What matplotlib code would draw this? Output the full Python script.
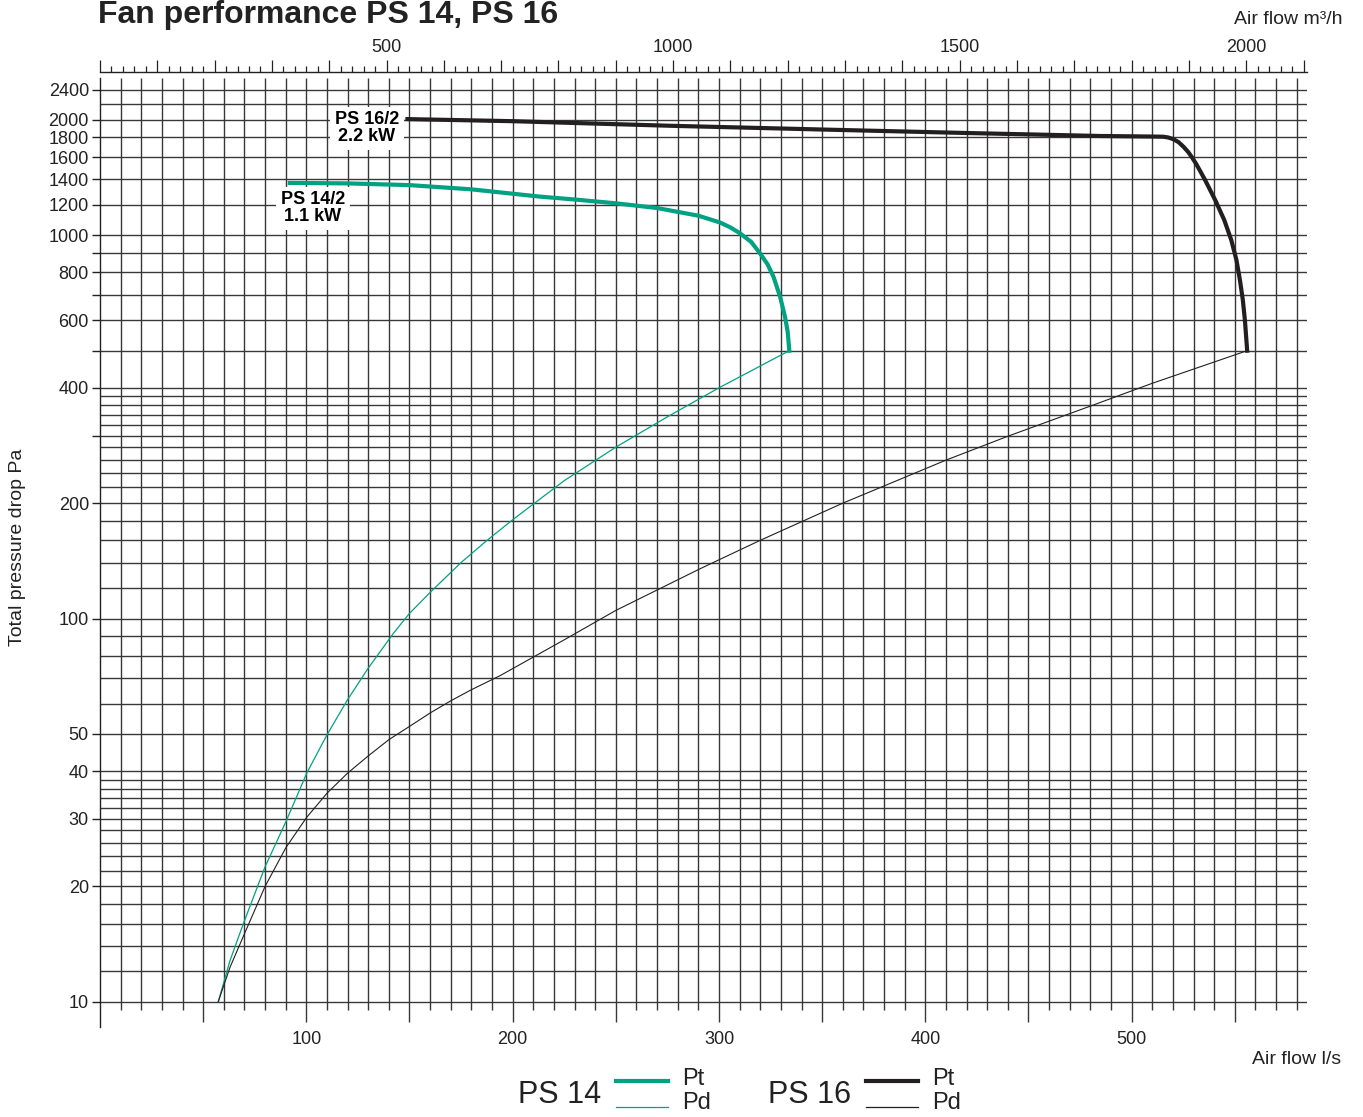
import numpy as np
import matplotlib.pyplot as plt
import matplotlib.ticker as ticker
from matplotlib.lines import Line2D

plt.rcParams['font.family'] = ['Liberation Sans', 'DejaVu Sans']

# air flow in l/s, pressure in Pa
ps14_pt_q = [92, 120, 150, 180, 213, 230, 250, 270, 290, 300.5, 305.6, 310.2, 315.6, 319.9,
             323.5, 326.4, 329.6, 332.0, 333.3, 334.1]
ps14_pt_p = [1370, 1366, 1352, 1318, 1262, 1240, 1212, 1178, 1125, 1080, 1048, 1012, 961, 897,
             841, 780, 692, 613, 560, 500]
ps14_pd_q = [57.3, 63, 69.5, 80, 90.2, 100.2, 110, 119.9, 129.9, 142.2, 149.9, 160, 175, 187,
             200, 225, 250, 275, 300, 334.1]
ps14_pd_p = [10, 12.8, 16, 22.5, 29.6, 39.5, 49.7, 61.3, 74.1, 91.5, 103, 117, 140, 159,
             181, 229, 280, 336, 400, 500]

ps16_pt_q = [149, 200, 278, 350, 418, 485, 510, 515.4, 517.7, 520.3, 522.8, 525.1, 527.4, 529.3,
             531.3, 533.2, 535.6, 540.5, 544.9, 548.3, 550.8, 552.5, 553.9, 554.9, 556.0]
ps16_pt_p = [2010, 1985, 1930, 1888, 1850, 1816, 1810, 1808, 1800, 1781, 1749, 1703, 1650, 1596,
             1535, 1472, 1394, 1236, 1096, 972, 862, 764, 678, 601, 500]
ps16_pd_q = [57.3, 63, 69.9, 80, 90.2, 100.2, 110, 120, 130, 140, 150, 160, 170, 180, 194, 225,
             250, 291, 320, 360, 410, 440, 481, 510, 556.0]
ps16_pd_p = [10, 12.3, 15.0, 20.0, 25.3, 30.3, 35.0, 39.5, 43.8, 48.3, 52.3, 56.7, 61.0, 65.2,
             71.0, 88, 105, 135, 160, 200, 259, 299, 360, 411, 500]

y_grid = [10, 12, 14, 16, 18, 20, 22, 24, 26, 28, 30, 32, 34, 36, 38, 40, 50, 60, 70, 80, 90,
          100, 120, 140, 160, 180, 200, 220, 240, 260, 280, 300, 320, 340, 360, 380, 400,
          500, 600, 700, 800, 900, 1000, 1200, 1400, 1600, 1800, 2000, 2200, 2400]
y_ticks = [10, 20, 30, 40, 50, 100, 200, 300, 400, 500, 600, 700, 800, 900,
           1000, 1200, 1400, 1600, 1800, 2000, 2400]
y_ticklabels = ['10', '20', '30', '40', '50', '100', '200', '', '400', '', '600', '', '800', '',
                '1000', '1200', '1400', '1600', '1800', '2000', '2400']
x_ticks = [100, 200, 300, 400, 500]

green = '#00a282'
black = '#231f20'
gridc = '#383838'

W, H = 1363, 1117
fig = plt.figure(figsize=(W / 100, H / 100), dpi=100)
ax = fig.add_axes([100 / W, 1 - 1026.7 / H, 1207 / W, 948.7 / H])

ax.set_yscale('log')
ax.set_xlim(0, 585)
ax.set_ylim(8.61, 2573)

# grid
for x in range(10, 590, 10):
    ymin = 8.85 if x % 50 == 0 else 9.51
    ax.vlines(x, ymin, 2573, color=gridc, lw=1.0, zorder=1)
ax.hlines(y_grid, 0, 585, color=gridc, lw=1.0, zorder=1)

# curves
ax.plot(ps14_pt_q, ps14_pt_p, color=green, lw=3.0, zorder=3, solid_joinstyle='round')
ax.plot(ps14_pd_q, ps14_pd_p, color=green, lw=0.9, zorder=3)
ax.plot(ps16_pt_q, ps16_pt_p, color=black, lw=3.0, zorder=3, solid_joinstyle='round')
ax.plot(ps16_pd_q, ps16_pd_p, color=black, lw=0.8, zorder=3)

box = dict(boxstyle='square,pad=0.25', facecolor='white', edgecolor='none')
ax.text(129.4, 1905, 'PS 16/2\n2.2 kW', ha='center', va='center', fontsize=13,
        fontweight='bold', linespacing=1.0, bbox=box, zorder=4)
ax.text(103.2, 1178, 'PS 14/2\n1.1 kW', ha='center', va='center', fontsize=13,
        fontweight='bold', linespacing=1.0, bbox=box, zorder=4)

# axes styling
for s in ['top', 'right', 'bottom']:
    ax.spines[s].set_visible(False)
ax.spines['left'].set_linewidth(1.0)
ax.spines['left'].set_color('#222222')

ax.yaxis.set_major_locator(ticker.FixedLocator(y_ticks))
ax.yaxis.set_major_formatter(ticker.FixedFormatter(y_ticklabels))
ax.yaxis.set_minor_locator(ticker.NullLocator())
ax.tick_params(axis='y', length=6, width=1.0, pad=2, labelsize=13, colors='#222222')

ax.set_xticks(x_ticks)
ax.xaxis.set_minor_locator(ticker.NullLocator())
ax.tick_params(axis='x', length=0, pad=3, labelsize=13, colors='#222222')

# top axis in m3/h
secax = ax.secondary_xaxis(1.0066, functions=(lambda q: q * 3.6, lambda m: m / 3.6))
secax.xaxis.set_major_locator(ticker.MultipleLocator(100))
secax.xaxis.set_minor_locator(ticker.MultipleLocator(20))
secax.xaxis.set_major_formatter(
    ticker.FuncFormatter(lambda v, p: f'{v:.0f}' if v > 0 and round(v) % 500 == 0 else ''))
secax.tick_params(which='major', direction='out', length=8.5, width=0.9, pad=3, labelsize=13, colors='#222222')
secax.tick_params(which='minor', direction='out', length=4.5, width=0.9, colors='#222222')
secax.spines['top'].set_linewidth(1.0)
secax.spines['top'].set_color('#222222')

# texts
fig.text(98 / W, 1 - 23 / H, 'Fan performance PS 14, PS 16', fontsize=23, fontweight='bold',
         ha='left', va='baseline', color='#222222')
fig.text(1343 / W, 1 - 19 / H, 'Air flow m³/h', ha='right', va='center', fontsize=14, color='#222222')
fig.text(1341 / W, 1 - 1060 / H, 'Air flow l/s', ha='right', va='center', fontsize=14, color='#222222')
fig.text(18 / W, 1 - 547 / H, 'Total pressure drop Pa', rotation=90, ha='center', va='center',
         fontsize=14, color='#222222')

# legend at bottom
def legend_group(x_text, x0, x1, label, color):
    fig.text(x_text / W, 1 - 1095 / H, label, fontsize=22, ha='left', va='center', color='#222222')
    fig.add_artist(Line2D([x0 / W, x1 / W], [1 - 1081 / H, 1 - 1081 / H], color=color, lw=3.0,
                          transform=fig.transFigure))
    fig.add_artist(Line2D([x0 / W, x1 / W], [1 - 1107 / H, 1 - 1107 / H], color=color, lw=0.9,
                          transform=fig.transFigure))
    fig.text((x1 + 14) / W, 1 - 1079 / H, 'Pt', fontsize=17, ha='left', va='center', color='#222222')
    fig.text((x1 + 14) / W, 1 - 1103 / H, 'Pd', fontsize=17, ha='left', va='center', color='#222222')

legend_group(518, 616, 668, 'PS 14', green)
legend_group(768, 866, 918, 'PS 16', black)

fig.savefig('out.png', dpi=100)
